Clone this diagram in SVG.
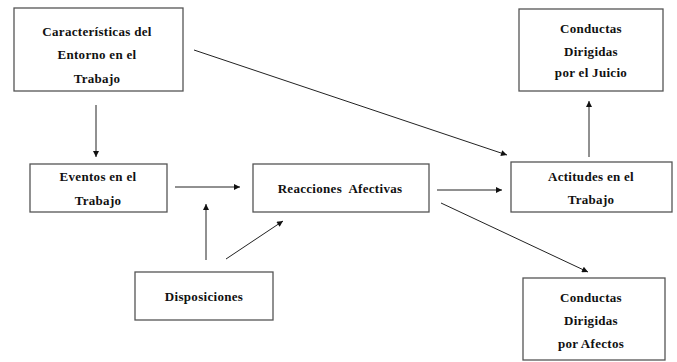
<svg xmlns="http://www.w3.org/2000/svg" width="677" height="362" viewBox="0 0 677 362">
<style>
.box{fill:#fff;stroke:#555;stroke-width:1.3}
.t{font-family:"Liberation Serif","Times New Roman",serif;font-weight:bold;font-size:13px;letter-spacing:0.3px;fill:#111;text-anchor:middle}
.c{stroke:#222;stroke-width:1;fill:none;marker-end:url(#ah)}
</style>
<defs>
<marker id="ah" viewBox="0 0 10 10" refX="10" refY="5" markerWidth="8" markerHeight="6" markerUnits="userSpaceOnUse" orient="auto">
<path d="M0,0L10,5L0,10z" fill="#111"/>
</marker>
</defs>
<rect width="677" height="362" fill="#fff"/>
<g id="connectors">
<line class="c" x1="96" y1="105" x2="96" y2="157"/>
<line class="c" x1="175" y1="187" x2="240" y2="187"/>
<line class="c" x1="206" y1="260" x2="206" y2="204"/>
<line class="c" x1="226" y1="259" x2="283" y2="221"/>
<line class="c" x1="437" y1="190" x2="502" y2="190"/>
<line class="c" x1="194" y1="50" x2="507" y2="155"/>
<line class="c" x1="589" y1="157" x2="589" y2="101"/>
<line class="c" x1="441" y1="203" x2="588" y2="272"/>
</g>
<g id="caracteristicas">
<rect class="box" x="14" y="8" width="169" height="83"/>
<text class="t" x="97" y="36">Características del</text>
<text class="t" x="97" y="59">Entorno en el</text>
<text class="t" x="97" y="83">Trabajo</text>
</g>
<g id="conductas-juicio">
<rect class="box" x="519" y="9" width="144" height="82"/>
<text class="t" x="591" y="33">Conductas</text>
<text class="t" x="591" y="56">Dirigidas</text>
<text class="t" x="591" y="77">por el Juicio</text>
</g>
<g id="eventos">
<rect class="box" x="30" y="164" width="137" height="48"/>
<text class="t" x="98" y="181">Eventos en el</text>
<text class="t" x="98" y="205">Trabajo</text>
</g>
<g id="reacciones">
<rect class="box" x="253" y="164" width="176" height="48"/>
<text class="t" x="340" y="193" xml:space="preserve" style="white-space:pre">Reacciones  Afectivas</text>
</g>
<g id="actitudes">
<rect class="box" x="511" y="162" width="161" height="50"/>
<text class="t" x="591" y="181">Actitudes en el</text>
<text class="t" x="591" y="204">Trabajo</text>
</g>
<g id="disposiciones">
<rect class="box" x="135" y="272" width="138" height="48"/>
<text class="t" x="204" y="301">Disposiciones</text>
</g>
<g id="conductas-afectos">
<rect class="box" x="523" y="278" width="142" height="82"/>
<text class="t" x="591" y="302">Conductas</text>
<text class="t" x="591" y="325">Dirigidas</text>
<text class="t" x="591" y="348">por Afectos</text>
</g>
</svg>
